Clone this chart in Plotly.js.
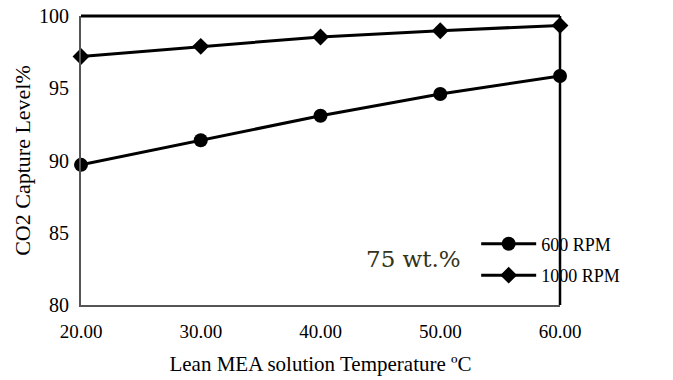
<!DOCTYPE html>
<html><head><meta charset="utf-8">
<script src="https://cdn.plot.ly/plotly-3.0.1.min.js"></script>
<style>body{margin:0;background:#fff}#c{width:673px;height:380px}</style>
</head><body><div id="c"></div>
<script>
const temps = [20, 30, 40, 50, 60];
const rpm600 = [89.7, 91.4, 93.1, 94.6, 95.85];
const rpm1000 = [97.2, 97.9, 98.55, 98.98, 99.35];
const tickVals = [20, 30, 40, 50, 60];
const tickText = ['20.00', '30.00', '40.00', '50.00', '60.00'];

const traces = [
  {x: temps, y: rpm600, name: '600 RPM', legendgroup: 'a', mode: 'lines+markers', cliponaxis: false,
   line: {color: '#000', width: 3}, marker: {symbol: 'circle', size: 14, color: '#000'}},
  {x: temps, y: rpm1000, name: '1000 RPM', legendgroup: 'b', mode: 'lines+markers', cliponaxis: false,
   line: {color: '#000', width: 3}, marker: {symbol: 'diamond', size: 13, color: '#000'}}
];
const layout = {
  width: 673, height: 380,
  margin: {l: 81, r: 113, t: 16, b: 75},
  paper_bgcolor: '#fff', plot_bgcolor: '#fff',
  font: {family: 'Liberation Serif, serif', color: '#000', size: 19},
  showlegend: true,
  legend: {x: 0.825, y: 0.275, xanchor: 'left', yanchor: 'top', bgcolor: 'rgba(0,0,0,0)',
    font: {size: 18, family: 'Liberation Serif, serif'}, itemwidth: 55, tracegroupgap: 5},
  xaxis: {range: [20, 60], tickvals: tickVals, ticktext: tickText, showgrid: false, zeroline: false,
    showline: true, linecolor: '#555', linewidth: 2, mirror: false, ticks: '', ticklen: 0,
    ticklabelstandoff: 8,
    tickfont: {size: 19}, title: {text: 'Lean MEA solution Temperature ºC', font: {size: 21}, standoff: 16}},
  yaxis: {range: [80, 100], dtick: 5, showgrid: false, zeroline: false,
    showline: true, linecolor: '#555', linewidth: 2, ticks: '', tickfont: {size: 20},
    ticklabelstandoff: 6,
    title: {text: 'CO2 Capture Level%', font: {size: 22}, standoff: 2}},
  shapes: [
    {type: 'line', xref: 'paper', yref: 'paper', x0: 0, x1: 1, y0: 1, y1: 1, line: {color: '#000', width: 3}},
    {type: 'line', xref: 'paper', yref: 'paper', x0: 1, x1: 1, y0: 0, y1: 1, line: {color: '#000', width: 2.5}}
  ],
  annotations: [
    {text: '75 wt.%', xref: 'paper', yref: 'paper', x: 0.695, y: 0.16, xanchor: 'center', yanchor: 'middle',
     showarrow: false, font: {family: 'DejaVu Serif, serif', size: 23, color: '#333318'}}
  ]
};
Plotly.newPlot('c', traces, layout, {displayModeBar: false, staticPlot: true});
</script></body></html>
